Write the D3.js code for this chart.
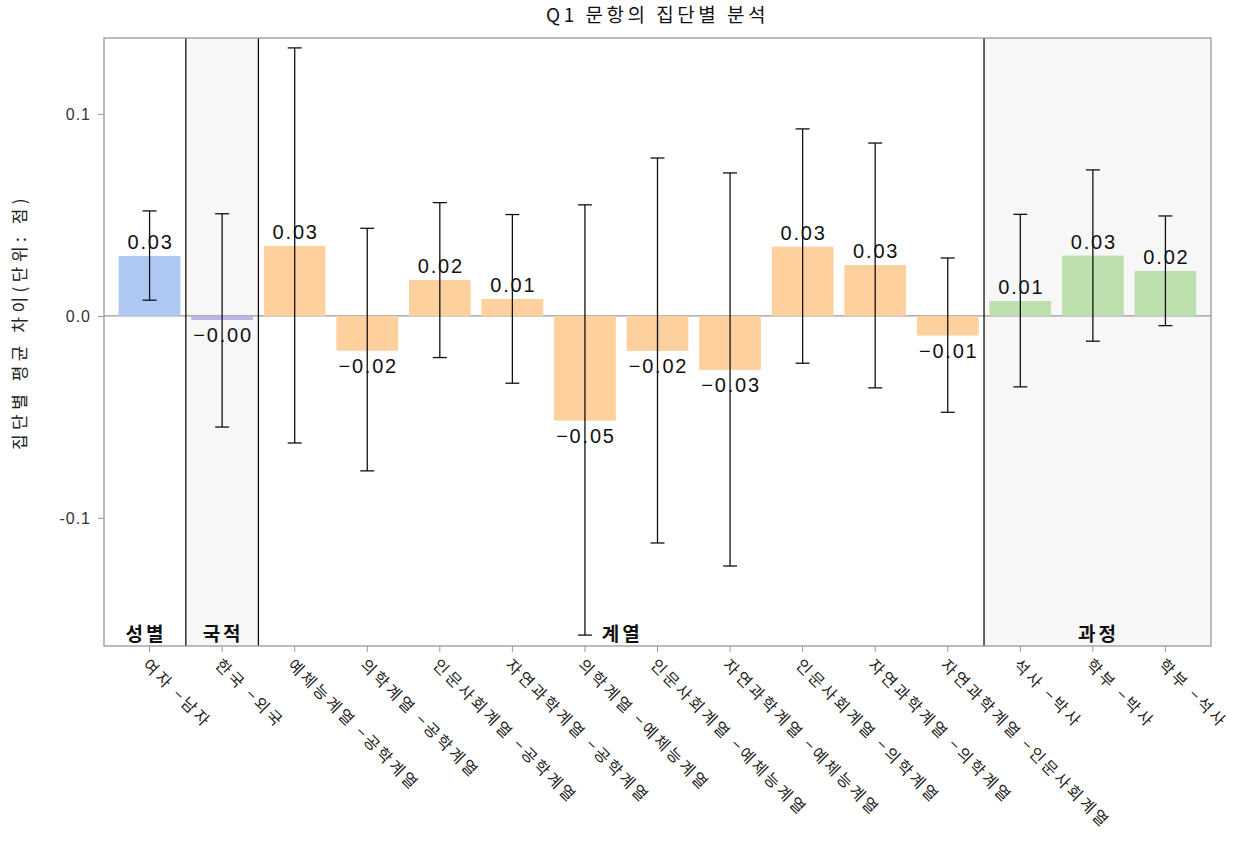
<!DOCTYPE html>
<html><head><meta charset="utf-8">
<script src="https://cdn.jsdelivr.net/npm/d3@7"></script>
<style>body{margin:0;background:#fff}</style>
</head><body>
<svg id="c" width="1237" height="846"></svg>
<script>
const categories = ["여자 −남자","한국 −외국","예체능계열 −공학계열","의학계열 −공학계열","인문사회계열 −공학계열","자연과학계열 −공학계열","의학계열 −예체능계열","인문사회계열 −예체능계열","자연과학계열 −예체능계열","인문사회계열 −의학계열","자연과학계열 −의학계열","자연과학계열 −인문사회계열","석사 −박사","학부 −박사","학부 −석사"];
const groupOf = ["성별","국적","계열","계열","계열","계열","계열","계열","계열","계열","계열","계열","과정","과정","과정"];
const groups = ["성별","국적","계열","과정"];
const values = [0.0297,-0.0020,0.0347,-0.0172,0.0178,0.0084,-0.0518,-0.0173,-0.0267,0.0343,0.0252,-0.0097,0.0074,0.0299,0.0223];
const errLow = [0.0078,-0.0550,-0.0629,-0.0767,-0.0206,-0.0333,-0.1580,-0.1124,-0.1238,-0.0234,-0.0356,-0.0477,-0.0351,-0.0125,-0.0048];
const errHigh = [0.0520,0.0506,0.1327,0.0434,0.0561,0.0502,0.0550,0.0782,0.0708,0.0926,0.0856,0.0287,0.0503,0.0723,0.0495];
const yTicks = [-0.1,0.0,0.1];
const groupColors = {"성별":"#aec8f4","국적":"#b9b4e4","계열":"#fdd09e","과정":"#bde0ae"};
const groupShade = {"성별":"#ffffff","국적":"#f7f7f7","계열":"#ffffff","과정":"#f7f7f7"};

const svg = d3.select("#c");
const L=104,R=1211,T=38,B=646;
const x = d3.scaleBand().domain(categories).range([L,R]).paddingInner(0.15).paddingOuter(0.203);
const y = d3.scaleLinear().domain([-0.1634,0.1376]).range([B,T]);
const step = x.step();
const font = "'Noto Sans CJK KR','Noto Sans',sans-serif";

const gExt = groups.map(g=>{
  const idx = categories.map((c,i)=>i).filter(i=>groupOf[i]===g);
  const first = idx[0], last = idx[idx.length-1];
  const x0 = first===0 ? L : x(categories[first]) + x.bandwidth()/2 - step/2;
  const x1 = last===categories.length-1 ? R : x(categories[last]) + x.bandwidth()/2 + step/2;
  return {g,x0,x1};
});
svg.append("g").selectAll("rect").data(gExt).join("rect")
  .attr("x",d=>d.x0).attr("y",T).attr("width",d=>d.x1-d.x0).attr("height",B-T)
  .attr("fill",d=>groupShade[d.g]);

svg.append("line").attr("x1",L).attr("x2",R).attr("y1",y(0)).attr("y2",y(0)).attr("stroke","#999").attr("stroke-width",1.2);

svg.append("g").selectAll("rect").data(values).join("rect")
  .attr("x",(d,i)=>x(categories[i])).attr("width",x.bandwidth())
  .attr("y",d=>y(Math.max(0,d))).attr("height",d=>Math.abs(y(d)-y(0)))
  .attr("fill",(d,i)=>groupColors[groupOf[i]]);

svg.append("g").selectAll("line").data(gExt.slice(1)).join("line")
  .attr("x1",d=>d.x0).attr("x2",d=>d.x0).attr("y1",T).attr("y2",B)
  .attr("stroke","#111").attr("stroke-width",1.3);

const eb = svg.append("g").attr("stroke","#111").attr("stroke-width",1.3);
categories.forEach((c,i)=>{
  const cx = x(c)+x.bandwidth()/2;
  eb.append("line").attr("x1",cx).attr("x2",cx).attr("y1",y(errLow[i])).attr("y2",y(errHigh[i]));
  eb.append("line").attr("x1",cx-7).attr("x2",cx+7).attr("y1",y(errLow[i])).attr("y2",y(errLow[i]));
  eb.append("line").attr("x1",cx-7).attr("x2",cx+7).attr("y1",y(errHigh[i])).attr("y2",y(errHigh[i]));
});

const fmt = v => { const s = Math.abs(v).toFixed(2); return (v<0?"−":"")+s; };
svg.append("g").selectAll("text").data(values).join("text")
  .attr("x",(d,i)=>x(categories[i])+x.bandwidth()/2+1)
  .attr("y",d=> d>=0 ? y(d)-7 : y(d)+22)
  .attr("text-anchor","middle").attr("font-family","'Liberation Sans',Arial,sans-serif")
  .attr("font-size",20).attr("letter-spacing","1.8px").attr("fill","#111")
  .text(d=>fmt(d));

svg.append("g").selectAll("text").data(gExt).join("text")
  .attr("x",d=>(d.x0+d.x1)/2+1).attr("y",B-5)
  .attr("text-anchor","middle").attr("font-family",font).attr("font-weight","bold")
  .attr("font-size",19).attr("letter-spacing","3px").attr("fill","#111")
  .text(d=>d.g);

svg.append("rect").attr("x",L).attr("y",T).attr("width",R-L).attr("height",B-T)
  .attr("fill","none").attr("stroke","#999").attr("stroke-width",1.3);

const ya = svg.append("g").attr("transform",`translate(${L},0)`)
  .call(d3.axisLeft(y).tickValues(yTicks).tickFormat(d=>d3.format(".1f")(d).replace("−","-")).tickSize(6).tickSizeOuter(0));
ya.select(".domain").remove();
ya.selectAll("line").attr("stroke","#999");
ya.selectAll("text").attr("font-family","'Liberation Sans',Arial,sans-serif").attr("font-size",16).attr("letter-spacing","1px").attr("fill","#333").attr("dx","-4");

const xa = svg.append("g").attr("transform",`translate(0,${B})`)
  .call(d3.axisBottom(x).tickSize(6).tickSizeOuter(0));
xa.select(".domain").remove();
xa.selectAll("line").attr("stroke","#999");
xa.selectAll("text").attr("font-family",font).attr("font-size",16).attr("fill","#222")
  .attr("letter-spacing","3px")
  .attr("text-anchor","start").attr("y",0).attr("dy","0.35em")
  .attr("transform","translate(-4,16) rotate(45)");

svg.append("text").attr("x",(L+R)/2).attr("y",22).attr("text-anchor","middle")
  .attr("font-family",font).attr("font-size",19).attr("letter-spacing","3.5px").attr("fill","#111")
  .text("Q1 문항의 집단별 분석");

svg.append("text").attr("transform","translate(26,322) rotate(-90)").attr("text-anchor","middle")
  .attr("font-family",font).attr("font-size",17).attr("letter-spacing","4.5px").attr("fill","#222")
  .text("집단별 평균 차이(단위: 점)");
</script>
</body></html>
